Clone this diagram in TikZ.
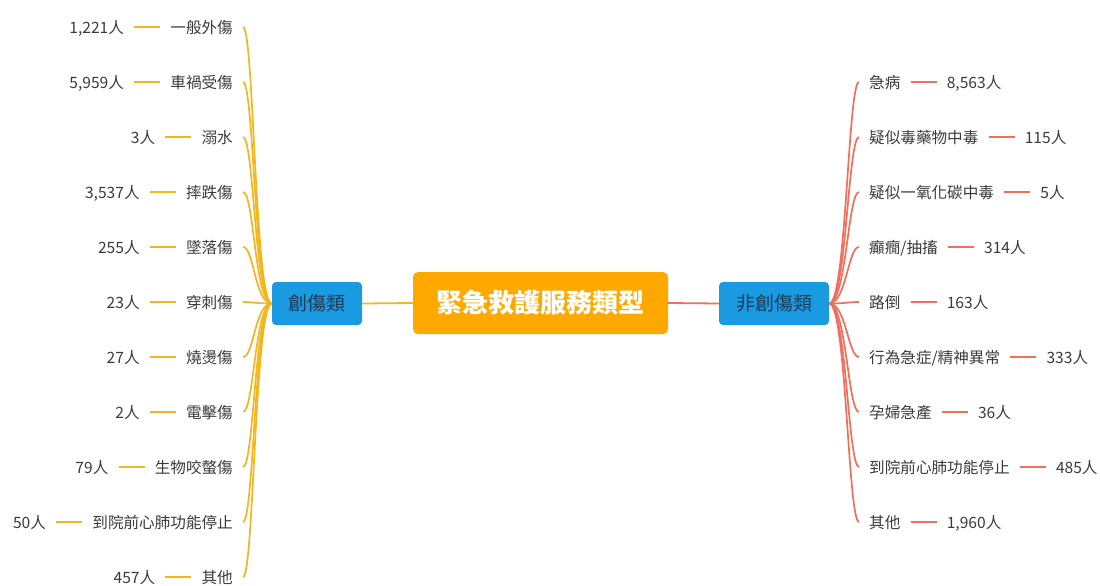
\documentclass[tikz,border=0pt]{standalone}
\usepackage{fontspec}
\setmainfont{Noto Sans CJK TC}
\definecolor{lcol}{HTML}{F3B61F}
\definecolor{rcol}{HTML}{EF6E5C}
\definecolor{rootcol}{HTML}{FFA800}
\definecolor{bluecol}{HTML}{1A9AE0}
\definecolor{bluetxt}{HTML}{1F3A55}
\definecolor{txt}{HTML}{3A3A3A}
\newcommand\litem[4]{%
  \node[lab,anchor=east] (#1) at (243,#2) {#3};
  \node[lab,anchor=east] (#1n) at ([xshift=-26pt]#1.west) {#4};
  \draw[lline] (#1n.east) -- (#1.west);
  \draw[lcurve] (trauma.west) .. controls +(-17,0) and +(11,0) .. (#1.east);
}
\newcommand\ritem[4]{%
  \node[lab,anchor=west] (#1) at (859,#2) {#3};
  \node[lab,anchor=west] (#1n) at ([xshift=26pt]#1.east) {#4};
  \draw[rline] (#1.east) -- (#1n.west);
  \draw[rcurve] (nontrauma.east) .. controls +(17,0) and +(-11,0) .. (#1.west);
}
\begin{document}
\begin{tikzpicture}[x=1pt,y=-1pt,
  lab/.style={font=\fontsize{15.6}{19}\selectfont, text=txt, inner xsep=10pt, inner ysep=0pt, text height=13.7pt, text depth=1.5pt},
  lline/.style={draw=lcol, line width=1.8pt},
  rline/.style={draw=rcol, line width=1.8pt},
  lcurve/.style={draw=lcol, line width=1.7pt},
  rcurve/.style={draw=rcol, line width=1.7pt},
  rootbox/.style={fill=rootcol, rounded corners=5pt, text=white, font=\fontsize{26}{30}\selectfont\bfseries, minimum width=255pt, minimum height=62pt, inner sep=0pt},
  catbox/.style={fill=bluecol, rounded corners=4pt, text=bluetxt, font=\fontsize{19}{22}\selectfont, minimum height=43pt, inner sep=0pt}
]
\useasboundingbox (0,0) rectangle (1100,586);

\node[rootbox] (root) at (540.5,303) {緊急救護服務類型};
\node[catbox, minimum width=90pt] (trauma) at (317,303.5) {創傷類};
\node[catbox, minimum width=110pt] (nontrauma) at (774,303.5) {非創傷類};
\draw[lline] (root.west) -- (trauma.east);
\draw[rline] (root.east) -- (nontrauma.west);

\litem{la}{27}{一般外傷}{1,221人}
\litem{lb}{82}{車禍受傷}{5,959人}
\litem{lc}{137}{溺水}{3人}
\litem{ld}{192}{摔跌傷}{3,537人}
\litem{le}{247}{墜落傷}{255人}
\litem{lf}{302}{穿刺傷}{23人}
\litem{lg}{357}{燒燙傷}{27人}
\litem{lh}{412}{電擊傷}{2人}
\litem{li}{467}{生物咬螫傷}{79人}
\litem{lj}{522}{到院前心肺功能停止}{50人}
\litem{lk}{577}{其他}{457人}

\ritem{ra}{82}{急病}{8,563人}
\ritem{rb}{137}{疑似毒藥物中毒}{115人}
\ritem{rc}{192}{疑似一氧化碳中毒}{5人}
\ritem{rd}{247}{癲癇/抽搐}{314人}
\ritem{re}{302}{路倒}{163人}
\ritem{rf}{357}{行為急症/精神異常}{333人}
\ritem{rg}{412}{孕婦急產}{36人}
\ritem{rh}{467}{到院前心肺功能停止}{485人}
\ritem{ri}{522}{其他}{1,960人}
\end{tikzpicture}
\end{document}
